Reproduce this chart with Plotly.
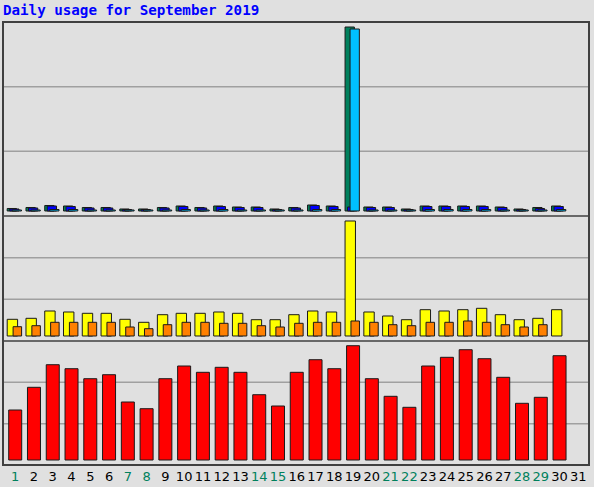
import plotly.graph_objects as go

# ---------------- data ----------------
days = list(range(1, 32))
day_labels = [str(d) for d in days]
weekend_days = [1, 7, 8, 14, 15, 21, 22, 28, 29]

hits = [125, 175, 275, 250, 175, 175, 100, 100, 175, 250, 175, 250, 200, 200, 100, 175,
        300, 250, 9200, 200, 200, 100, 250, 250, 250, 250, 200, 100, 175, 250, 0]
files = [100, 150, 250, 225, 150, 150, 75, 75, 150, 225, 150, 225, 175, 175, 75, 150,
         275, 225, 200, 175, 175, 75, 225, 225, 225, 225, 175, 75, 125, 225, 0]
pages = [50, 50, 75, 75, 50, 50, 50, 50, 50, 75, 50, 75, 50, 50, 50, 50,
         75, 75, 9100, 50, 50, 50, 75, 75, 75, 75, 50, 50, 50, 75, 0]
visits = [167, 177, 250, 240, 227, 227, 167, 137, 213, 227, 227, 240, 227, 163, 163, 213,
          250, 240, 1150, 240, 200, 163, 263, 250, 263, 277, 213, 163, 177, 263, 0]
sites = [93, 103, 137, 137, 137, 137, 90, 73, 113, 137, 137, 127, 127, 103, 90, 127,
         137, 137, 150, 137, 113, 103, 137, 137, 150, 137, 113, 90, 113, 0, 0]
kbytes = [50000, 72700, 95300, 91300, 81300, 85300, 58000, 51300, 81300, 94000, 87700,
          92700, 87700, 65300, 54000, 87700, 100300, 91300, 114300, 81300, 63700, 52700,
          94000, 102700, 110300, 101300, 82700, 56700, 62700, 104300, 0]

title_text = "Daily usage for September 2019"

# ---------------- styling ----------------
BG = "#e0e0e0"
WEEKEND = "#00805c"
OUT = dict(color="#1a1a1a", width=1)


def nz(vals):
    return [v if v else None for v in vals]


tick_text = [
    f'<span style="color:{WEEKEND}">{lbl}</span>' if d in weekend_days else lbl
    for d, lbl in zip(days, day_labels)
]

fig = go.Figure()

# top panel: hits / files / pages
fig.add_bar(x=days, y=nz(hits), xaxis="x", yaxis="y", name="Hits",
            marker=dict(color="#00805c", line=OUT), offset=-0.426, width=0.495)
fig.add_bar(x=days, y=nz(files), xaxis="x", yaxis="y", name="Files",
            marker=dict(color="#0000ff", line=OUT), offset=-0.293, width=0.495)
fig.add_bar(x=days, y=nz(pages), xaxis="x", yaxis="y", name="Pages",
            marker=dict(color="#00c0ff", line=OUT), offset=-0.160, width=0.495)

# middle panel: visits / sites
fig.add_bar(x=days, y=nz(visits), xaxis="x", yaxis="y2", name="Visits",
            marker=dict(color="#ffff00", line=OUT), offset=-0.426, width=0.554)
fig.add_bar(x=days, y=nz(sites), xaxis="x", yaxis="y2", name="Sites",
            marker=dict(color="#ff8000", line=OUT), offset=-0.112, width=0.453)

# bottom panel: kbytes
fig.add_bar(x=days, y=nz(kbytes), xaxis="x", yaxis="y3", name="KBytes",
            marker=dict(color="#ff0000", line=OUT), offset=-0.346, width=0.693)

d_top = [0.5621, 1.0]
d_mid = [0.2799, 0.5621]
d_bot = [0.0, 0.2799]

hidden = dict(showgrid=False, zeroline=False, showticklabels=False, showline=False,
              ticks="", automargin=False)

fig.update_layout(
    width=594, height=487,
    margin=dict(l=3, r=5, t=22, b=22, autoexpand=False),
    paper_bgcolor=BG, plot_bgcolor=BG,
    showlegend=False,
    barmode="overlay",
    xaxis=dict(domain=[0, 1], range=[0.35, 31.57], anchor="y3", automargin=False,
               tickmode="array", tickvals=days, ticktext=tick_text,
               showgrid=False, zeroline=False, showline=False, ticks="",
               ticklabelstandoff=2,
               tickfont=dict(family="DejaVu Sans", size=13, color="#000000")),
    yaxis=dict(domain=d_top, range=[-250, 9450], anchor="x", **hidden),
    yaxis2=dict(domain=d_mid, range=[-50, 1200], anchor="x", **hidden),
    yaxis3=dict(domain=d_bot, range=[-5000, 119000], anchor="x", **hidden),
)

shapes = []
for ax in ["y", "y2", "y3"]:
    for f in (1 / 3, 2 / 3):
        shapes.append(dict(type="line", xref="paper", x0=0, x1=1,
                           yref=f"{ax} domain", y0=f, y1=f,
                           line=dict(color="#a0a0a0", width=1.5), layer="below"))
for yy in (d_mid[0], d_top[0]):
    shapes.append(dict(type="line", xref="paper", x0=0, x1=1, yref="paper", y0=yy, y1=yy,
                       line=dict(color="#404040", width=1.5), layer="above"))
shapes.append(dict(type="rect", xref="paper", yref="paper", x0=0, x1=1, y0=0, y1=1,
                   line=dict(color="#404040", width=2), layer="above"))
fig.update_layout(shapes=shapes)

fig.add_annotation(text=title_text, xref="paper", yref="paper", x=0, y=1.027,
                   xanchor="left", yanchor="middle", xshift=-2, showarrow=False,
                   font=dict(family="DejaVu Sans Mono", size=14.2, color="#0000ff",
                             weight="bold"))

fig.write_html(
    "out.html",
    config={"displayModeBar": False},
    post_script="document.body.style.margin='0';document.body.style.background='#e0e0e0';",
)
